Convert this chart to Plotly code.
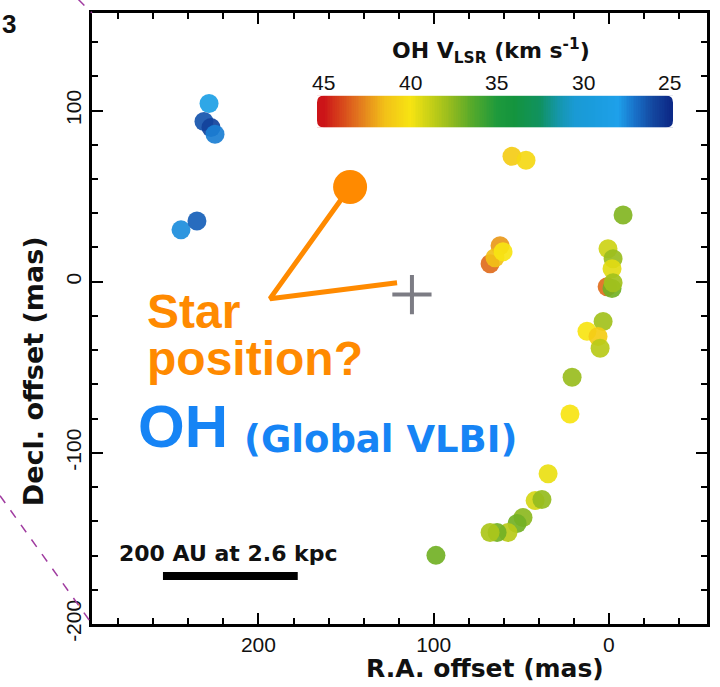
import numpy as np
import plotly.graph_objects as go

# ---------------- data ----------------
ra_off = [228.2, 231.1, 227.1, 224.8, 244.2, 235.1,
          55.3, 47.3, -8.1,
          67.8, 62.1, 65.0, 60.4,
          0.5, -2.4, -1.8, 1.0, -1.8, -2.4,
          3.3, 12.5, 6.2, 5.0, 21.0, 22.2, 34.7,
          42.1, 38.2, 49.0, 52.4, 57.6, 63.8, 67.8, 98.7]
dec_off = [104.1, 93.6, 90.1, 86.1, 30.3, 35.5,
           73.3, 71.0, 39.0,
           10.5, 21.0, 14.0, 17.5,
           19.2, 13.4, 7.6, -2.9, -4.0, -0.6,
           -23.2, -29.0, -32.0, -38.9, -55.8, -77.3, -112.2,
           -127.9, -127.3, -137.8, -141.3, -146.5, -146.5, -146.5, -159.9]
vlsr = [28.5, 26.3, 25.8, 27.3, 27.6, 26.6,
        41.0, 40.5, 37.3,
        43.2, 42.3, 41.5, 40.0,
        39.0, 37.8, 39.5, 43.2, 37.0, 38.0,
        38.0, 40.0, 41.0, 38.5, 37.8, 40.0, 39.7,
        39.2, 37.7, 37.5, 37.0, 38.5, 37.0, 38.2, 37.0]

star_guess = [147.7, 55.3]          # proposed star position (mas)
cross_pos = [112.4, -7.5]           # "+" position (mas)
pointer_x = [147.7, 193.4, 120.9]   # pointer line vertices
pointer_y = [55.3, -9.9, -0.6]

scale_au = 200
dist_kpc = 2.6
scale_start_x = 254.5
scale_y = -172.0

x_ticks = [200, 100, 0]
y_ticks = [100, 0, -100, -200]
minor_step = 20
cb_ticks = [45, 40, 35, 30, 25]
cb_range = [45.4, 24.8]

# ---------------- style ----------------
cscale = [
    [0.00, "#0c2a88"], [0.05, "#1448a0"], [0.10, "#1870c8"],
    [0.15, "#1ea0ea"], [0.225, "#1a9cdc"], [0.275, "#1a9ad4"],
    [0.325, "#1496a8"], [0.375, "#109260"], [0.45, "#14943e"],
    [0.50, "#1e9a3c"], [0.575, "#58aa2a"], [0.625, "#8cb820"],
    [0.675, "#b8ca18"], [0.75, "#f7e412"], [0.825, "#f2c018"],
    [0.90, "#e2761e"], [1.00, "#cc1418"]]

W, H = 720, 687
L, R, T, B = 92, 13, 10, 63
pw, ph = W - L - R, H - T - B


def fx(px):
    return (px - L) / pw


def fy(py):
    return (H - B - py) / ph


ORANGE = "#ff8a00"
BLUE = "#1684f5"
SANS = "Liberation Sans, Arial, sans-serif"

CB_PX = (317, 673)
CB_PY = (93, 125)
CB_X0, CB_X1 = fx(CB_PX[0]), fx(CB_PX[1])

fig = go.Figure()

# colour bar as heatmap (own small, hidden axes)
cb_v = np.arange(cb_range[0], cb_range[1] - 0.05, -0.1)
fig.add_trace(go.Heatmap(x=cb_v, y=[0, 1], z=[list(cb_v), list(cb_v)],
                         colorscale=cscale, zmin=25, zmax=45, showscale=False,
                         xaxis="x2", yaxis="y2", hoverinfo="skip"))

# pointer lines
fig.add_trace(go.Scatter(x=pointer_x, y=pointer_y, mode="lines",
                         line=dict(color=ORANGE, width=5), hoverinfo="skip",
                         showlegend=False))
# star guess marker
fig.add_trace(go.Scatter(x=[star_guess[0]], y=[star_guess[1]], mode="markers",
                         marker=dict(size=34, color=ORANGE), showlegend=False))
# cross
fig.add_trace(go.Scatter(x=[cross_pos[0]], y=[cross_pos[1]], mode="markers",
                         marker=dict(symbol="cross-thin", size=28,
                                     line=dict(color="#7c7c84", width=4)),
                         showlegend=False))
# maser spots
fig.add_trace(go.Scatter(x=ra_off, y=dec_off, mode="markers",
                         marker=dict(size=19, color=vlsr, colorscale=cscale,
                                     cmin=25, cmax=45, opacity=0.92,
                                     line=dict(width=0)),
                         showlegend=False))
# scale bar
scale_len = scale_au / dist_kpc
fig.add_trace(go.Scatter(x=[scale_start_x, scale_start_x - scale_len],
                         y=[scale_y, scale_y], mode="lines",
                         line=dict(color="black", width=8), showlegend=False))

axis_common = dict(showgrid=False, zeroline=False, showline=True,
                   linecolor="black", linewidth=2.5, mirror="allticks",
                   ticks="inside", ticklen=11, tickwidth=2.2, tickcolor="black",
                   tickfont=dict(family=SANS, size=21, color="#111"),
                   minor=dict(ticks="inside", dtick=minor_step, ticklen=6,
                              tickwidth=2, tickcolor="black"))

fig.update_layout(
    width=W, height=H, margin=dict(l=L, r=R, t=T, b=B),
    paper_bgcolor="white", plot_bgcolor="white",
    xaxis=dict(range=[295, -56], tickmode="array", tickvals=x_ticks,
               ticktext=[str(v) for v in x_ticks], **axis_common),
    yaxis=dict(range=[-200, 157], tickmode="array", tickvals=y_ticks,
               ticktext=[str(v) for v in y_ticks], tickangle=-90,
               **axis_common),
    xaxis2=dict(domain=[CB_X0, CB_X1], anchor="y2", range=cb_range,
                visible=False),
    yaxis2=dict(domain=[fy(CB_PY[1]), fy(CB_PY[0])], anchor="x2",
                range=[-0.5, 1.5], visible=False),
)

ann = []
# colour-bar tick labels placed along the bar by value
for v in cb_ticks:
    frac = (cb_range[0] - v) / (cb_range[0] - cb_range[1])
    ann.append(dict(text=str(v), x=CB_X0 + frac * (CB_X1 - CB_X0), y=fy(80),
                    xanchor="center", yanchor="middle",
                    font=dict(family=SANS, size=21, color="#111")))
ann.append(dict(text="Star", x=fx(145), y=fy(310), xanchor="left",
                yanchor="middle", font=dict(family=SANS, size=48, color=ORANGE,
                                            weight="bold")))
ann.append(dict(text="position?", x=fx(145), y=fy(357), xanchor="left",
                yanchor="middle", font=dict(family=SANS, size=48, color=ORANGE,
                                            weight="bold")))
ann.append(dict(text="OH", x=fx(136), y=fy(426), xanchor="left",
                yanchor="middle", font=dict(family=SANS, size=60, color=BLUE,
                                            weight="bold")))
ann.append(dict(text="(Global VLBI)", x=fx(242), y=fy(439), xanchor="left",
                yanchor="middle", font=dict(family="DejaVu Sans", size=37,
                                            color=BLUE, weight="bold")))
ann.append(dict(text=f"{scale_au} AU at {dist_kpc} kpc", x=fx(228), y=fy(553),
                xanchor="center", yanchor="middle",
                font=dict(family="DejaVu Sans", size=22, color="#111",
                          weight="bold")))
ann.append(dict(text="OH V<sub>LSR</sub> (km s<sup>-1</sup>)", x=fx(491),
                y=fy(48), xanchor="center", yanchor="middle",
                font=dict(family="DejaVu Sans", size=22, color="#111",
                          weight="bold")))
ann.append(dict(text="R.A. offset (mas)", x=fx(485), y=fy(669),
                xanchor="center", yanchor="middle",
                font=dict(family="DejaVu Sans", size=25, color="#111",
                          weight="bold")))
ann.append(dict(text="Decl. offset (mas)", x=fx(33), y=fy(370),
                xanchor="center", yanchor="middle", textangle=-90,
                font=dict(family="DejaVu Sans", size=27, color="#111",
                          weight="bold")))
ann.append(dict(text="3", x=fx(0), y=fy(21), xanchor="left",
                yanchor="middle",
                font=dict(family=SANS, size=26, color="#111", weight="bold")))
for a in ann:
    a.update(xref="paper", yref="paper", showarrow=False)
fig.update_layout(annotations=ann)

# rounded corners of the colour bar (white corner masks)
r = 7
for cx, cy, sx, sy in [(CB_PX[0], CB_PY[0], 1, 1), (CB_PX[1], CB_PY[0], -1, 1),
                       (CB_PX[0], CB_PY[1], 1, -1), (CB_PX[1], CB_PY[1], -1, -1)]:
    path = (f"M {fx(cx)},{fy(cy)} L {fx(cx + sx * r)},{fy(cy)} "
            f"Q {fx(cx)},{fy(cy)} {fx(cx)},{fy(cy + sy * r)} Z")
    fig.add_shape(type="path", path=path, xref="paper", yref="paper",
                  fillcolor="white", line=dict(width=0))

# dashed zoom-indicator lines from neighbouring panel
fig.add_shape(type="line", xref="paper", yref="paper",
              x0=fx(0), y0=fy(495), x1=fx(92), y1=fy(624),
              line=dict(color="#a03ca0", width=1.5, dash="dash"))
fig.add_shape(type="line", xref="paper", yref="paper",
              x0=fx(78), y0=fy(-4), x1=fx(92), y1=fy(10),
              line=dict(color="#a03ca0", width=1.5, dash="dash"))

fig.write_html("out.html")
